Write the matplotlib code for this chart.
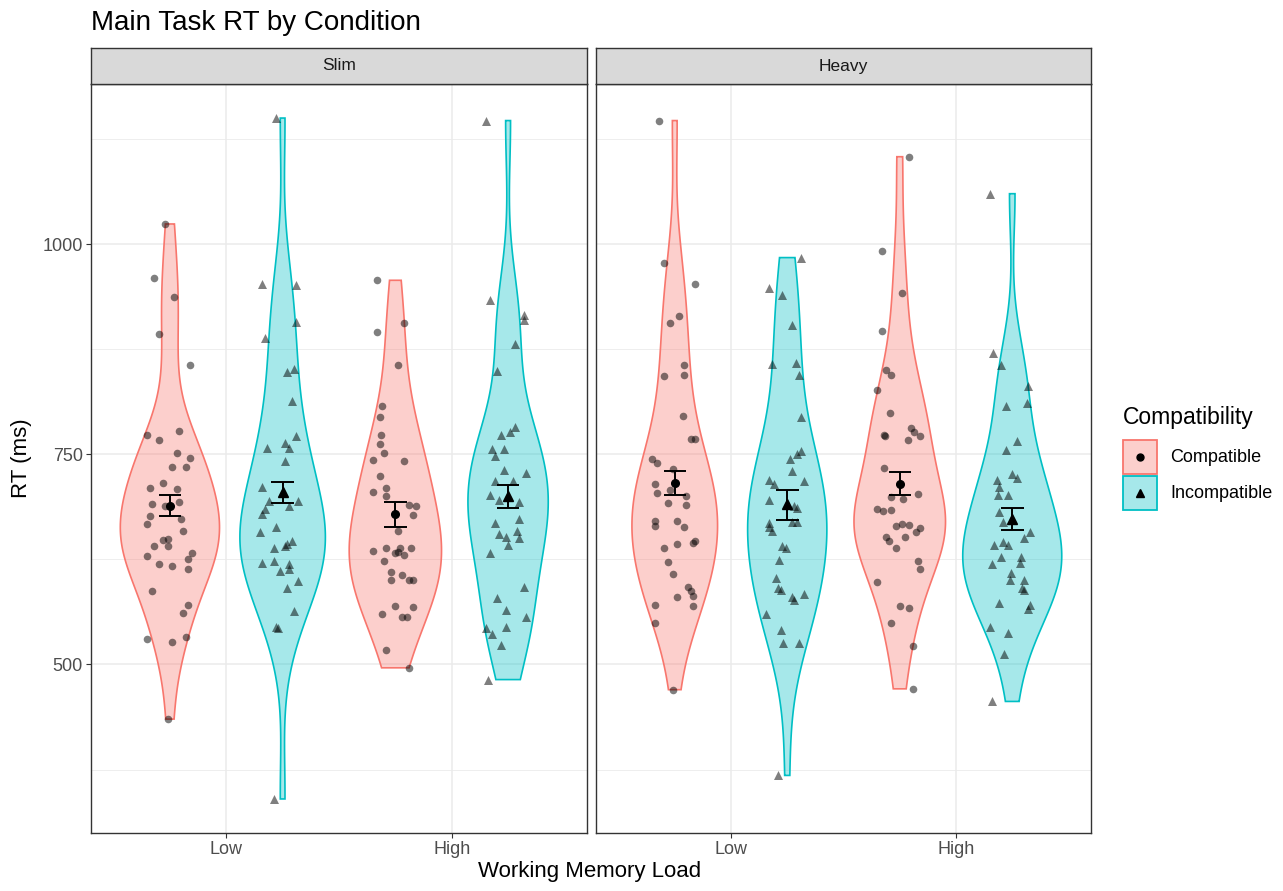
import numpy as np
import matplotlib
matplotlib.use("Agg")
import matplotlib.pyplot as plt
from matplotlib.patches import Polygon, Rectangle
from matplotlib.colors import to_rgba

plt.rcParams['font.family'] = ['Liberation Sans', 'DejaVu Sans']

# ---------------- data ----------------
bodies = ['Slim', 'Heavy']
loads = ['Low', 'High']
compat = ['Compatible', 'Incompatible']

slim_low_comp_rt = [1024, 960, 937, 893, 856, 773, 778, 767, 752, 746, 735, 735, 710, 716, 709,
                    691, 688, 693, 677, 667, 673, 659, 648, 649, 641, 641, 633, 629, 625, 619,
                    617, 613, 587, 571, 561, 530, 527, 533, 435]
slim_low_comp_jit = [-0.02, -0.07, 0.02, -0.05, 0.09, -0.10, 0.04, -0.05, 0.03, 0.09, 0.01, 0.07, -0.09,
                     -0.03, 0.03, -0.08, -0.02, 0.04, -0.09, -0.10, 0.05, 0.06, -0.03, -0.01, -0.01,
                     -0.07, 0.10, -0.10, 0.08, -0.05, 0.01, 0.08, -0.08, 0.08, 0.06, -0.10, 0.01, 0.07, -0.01]

slim_low_incomp_rt = [1150, 953, 951, 907, 888, 848, 852, 813, 772, 757, 764, 758, 742, 711, 695,
                      694, 688, 685, 679, 657, 663, 639, 641, 647, 643, 621, 623, 611, 619, 613,
                      599, 591, 564, 544, 543, 340]
slim_low_incomp_jit = [-0.03, -0.09, 0.06, 0.06, -0.08, 0.02, 0.05, 0.04, 0.06, -0.07, 0.01, 0.03, 0.01,
                       -0.09, -0.06, 0.07, 0.03, -0.08, -0.09, -0.10, -0.03, -0.04, 0.01, 0.04, 0.02,
                       -0.09, -0.04, -0.01, 0.03, 0.03, 0.07, 0.02, 0.05, -0.03, -0.02, -0.04]

slim_high_comp_rt = [957, 896, 906, 856, 807, 794, 773, 762, 751, 743, 742, 724, 705, 710, 700,
                     690, 689, 678, 659, 635, 639, 633, 638, 639, 623, 634, 630, 610, 601, 606,
                     600, 601, 560, 570, 568, 556, 556, 517, 496]
slim_high_comp_jit = [-0.08, -0.08, 0.04, 0.01, -0.06, -0.07, -0.065, -0.07, -0.05, -0.10, 0.04, -0.07,
                      -0.10, -0.04, -0.04, 0.06, 0.09, 0.08, 0.01, -0.10, -0.04, 0.00, 0.02, 0.07,
                      -0.05, 0.01, 0.04, -0.02, -0.02, 0.03, 0.06, 0.08, -0.06, 0.00, 0.08, 0.03,
                      0.05, -0.04, 0.06]

slim_high_incomp_rt = [1147, 933, 916, 910, 881, 849, 782, 776, 773, 756, 756, 748, 731, 728, 718,
                       718, 702, 696, 693, 673, 668, 655, 652, 659, 651, 642, 632, 592, 579, 565,
                       557, 543, 536, 544, 523, 482]
slim_high_incomp_jit = [-0.10, -0.08, 0.07, 0.07, 0.03, -0.05, 0.03, 0.01, -0.03, -0.07, -0.02, -0.06,
                        -0.02, 0.08, -0.06, 0.02, -0.08, -0.04, 0.05, 0.05, -0.06, -0.04, -0.01, 0.04,
                        0.05, 0.00, -0.08, 0.07, -0.05, -0.01, 0.08, -0.10, -0.07, -0.01, -0.03, -0.09]

heavy_low_comp_rt = [1147, 977, 952, 915, 906, 856, 843, 844, 795, 768, 768, 744, 740, 733, 715,
                     704, 708, 692, 700, 690, 671, 665, 671, 663, 647, 645, 639, 643, 622, 608,
                     592, 587, 582, 580, 571, 570, 549, 470]
heavy_low_comp_jit = [-0.07, -0.05, 0.09, 0.02, -0.02, 0.04, -0.05, 0.04, 0.035, 0.07, 0.09, -0.10,
                      -0.08, -0.01, -0.09, -0.08, -0.02, -0.03, 0.05, 0.05, -0.09, -0.09, 0.01, 0.04,
                      0.09, 0.08, -0.05, 0.01, -0.03, -0.01, 0.06, 0.07, 0.08, 0.01, -0.09, 0.08,
                      -0.09, -0.01]

heavy_low_incomp_rt = [984, 948, 939, 904, 857, 859, 844, 794, 754, 750, 745, 730, 718, 719, 715,
                       696, 689, 686, 669, 669, 668, 659, 663, 641, 638, 624, 603, 591, 589, 580,
                       577, 584, 560, 541, 525, 525, 368]
heavy_low_incomp_jit = [0.06, -0.08, -0.025, 0.02, -0.07, 0.04, 0.05, 0.06, 0.06, 0.045, 0.01, 0.02,
                        0.075, -0.08, -0.06, -0.08, 0.03, 0.045, 0.02, 0.045, -0.08, -0.07, -0.08,
                        -0.025, -0.005, -0.035, -0.05, -0.04, -0.03, 0.02, 0.03, 0.075, -0.095,
                        -0.03, -0.02, 0.05, -0.04]

heavy_high_comp_rt = [1104, 992, 942, 897, 850, 844, 827, 799, 773, 772, 781, 776, 772, 767, 734,
                      699, 697, 703, 685, 683, 684, 665, 667, 666, 662, 657, 652, 647, 652, 638,
                      623, 614, 598, 570, 567, 549, 522, 471]
heavy_high_comp_jit = [0.04, -0.08, 0.01, -0.08, -0.06, -0.04, -0.10, -0.045, -0.07, -0.065, 0.05,
                       0.065, 0.09, 0.035, -0.07, -0.04, 0.015, 0.08, -0.10, -0.075, -0.04, -0.015,
                       0.01, 0.04, 0.09, 0.07, -0.06, -0.05, 0.025, -0.015, 0.08, 0.09, -0.10, 0.0,
                       0.04, -0.04, 0.06, 0.06]

heavy_high_incomp_rt = [1060, 871, 856, 831, 811, 807, 766, 755, 727, 722, 719, 711, 701, 701, 681,
                        669, 658, 650, 642, 646, 642, 620, 628, 628, 621, 609, 601, 600, 591, 588,
                        573, 571, 566, 545, 538, 512, 456]
heavy_high_incomp_jit = [-0.10, -0.085, -0.05, 0.07, 0.065, -0.03, 0.02, -0.03, 0.0, 0.02, -0.07,
                         -0.06, -0.065, -0.02, -0.06, -0.04, 0.08, 0.05, -0.08, -0.04, -0.017, -0.09,
                         -0.05, 0.037, 0.033, -0.005, -0.01, 0.05, 0.043, 0.05, -0.06, 0.08, 0.07,
                         -0.10, -0.02, -0.035, -0.09]

# summary (mean and error-bar limits), order: body x load x compat
mean_rt = [689, 705, 679, 700, 716, 691, 715, 673]
err_low = [677, 692, 663, 686, 702, 672, 701, 660]
err_high = [702, 717, 693, 714, 730, 707, 729, 686]

# ---------------- assemble ----------------
rt = {
    ('Slim', 'Low', 'Compatible'): (slim_low_comp_rt, slim_low_comp_jit),
    ('Slim', 'Low', 'Incompatible'): (slim_low_incomp_rt, slim_low_incomp_jit),
    ('Slim', 'High', 'Compatible'): (slim_high_comp_rt, slim_high_comp_jit),
    ('Slim', 'High', 'Incompatible'): (slim_high_incomp_rt, slim_high_incomp_jit),
    ('Heavy', 'Low', 'Compatible'): (heavy_low_comp_rt, heavy_low_comp_jit),
    ('Heavy', 'Low', 'Incompatible'): (heavy_low_incomp_rt, heavy_low_incomp_jit),
    ('Heavy', 'High', 'Compatible'): (heavy_high_comp_rt, heavy_high_comp_jit),
    ('Heavy', 'High', 'Incompatible'): (heavy_high_incomp_rt, heavy_high_incomp_jit),
}

colors = {'Compatible': '#F8766D', 'Incompatible': '#00BFC4'}
markers = {'Compatible': 'o', 'Incompatible': '^'}
DODGE = 0.25
VWIDTH = 0.44
BW_ADJUST = 1.3


def nrd0(x):
    x = np.asarray(x, float)
    sd = x.std(ddof=1)
    q75, q25 = np.percentile(x, [75, 25])
    lo = min(sd, (q75 - q25) / 1.34)
    return 0.9 * lo * len(x) ** -0.2


def density(x, grid):
    x = np.asarray(x, float)
    bw = nrd0(x) * BW_ADJUST
    z = (grid[:, None] - x[None, :]) / bw
    return np.exp(-0.5 * z ** 2).sum(axis=1) / (len(x) * bw * np.sqrt(2 * np.pi))


all_vals = np.concatenate([np.asarray(v[0], float) for v in rt.values()])
ymin, ymax = all_vals.min(), all_vals.max()
pad = 0.05 * (ymax - ymin)

W, H = 1283, 891
fig = plt.figure(figsize=(W / 100, H / 100), dpi=100)


def px_axes(x0, y0, x1, y1, **kw):
    return fig.add_axes([x0 / W, 1 - y1 / H, (x1 - x0) / W, (y1 - y0) / H], **kw)


panel_px = {'Slim': (91, 84, 587, 833), 'Heavy': (596, 84, 1091, 833)}
strip_px = {'Slim': (91, 48, 587, 84), 'Heavy': (596, 48, 1091, 84)}

idx = 0
for b in bodies:
    ax = px_axes(*panel_px[b])
    ax.set_xlim(0.4, 2.6)
    ax.set_ylim(ymin - pad, ymax + pad)
    ax.set_facecolor('white')
    ax.set_xticks([1, 2])
    ax.set_xticklabels(loads)
    ax.set_yticks([500, 750, 1000])
    ax.set_yticks([375, 625, 875, 1125], minor=True)
    ax.grid(which='major', color='#EBEBEB', lw=1.1, zorder=0)
    ax.grid(which='minor', axis='y', color='#EBEBEB', lw=0.6, zorder=0)
    ax.set_axisbelow(True)
    for s in ax.spines.values():
        s.set_color('#333333')
        s.set_linewidth(1.0)
    ax.tick_params(which='major', length=3.5, width=0.8, color='#333333',
                   labelcolor='#4D4D4D', labelsize=13, pad=2.5)
    ax.tick_params(which='minor', length=0)
    if b != 'Slim':
        ax.tick_params(axis='y', left=False, labelleft=False)

    # densities for this panel (scale = "area": common maximum per panel)
    dens = {}
    for li, l in enumerate(loads):
        for c in compat:
            vals = np.asarray(rt[(b, l, c)][0], float)
            grid = np.linspace(vals.min(), vals.max(), 512)
            dens[(l, c)] = (grid, density(vals, grid))
    dmax = max(d[1].max() for d in dens.values())

    for li, l in enumerate(loads):
        for ci, c in enumerate(compat):
            center = li + 1 + (-DODGE if ci == 0 else DODGE)
            grid, d = dens[(l, c)]
            hw = d / dmax * VWIDTH / 2
            xs = np.concatenate([center - hw, (center + hw)[::-1]])
            ys = np.concatenate([grid, grid[::-1]])
            poly = Polygon(np.column_stack([xs, ys]), closed=True,
                           facecolor=to_rgba(colors[c], 0.35), edgecolor=colors[c],
                           lw=1.2, zorder=2)
            ax.add_patch(poly)

            vals, jit = rt[(b, l, c)]
            ax.scatter(center + np.asarray(jit), vals, marker=markers[c],
                       s=30 if c == 'Compatible' else 42, color='black', alpha=0.5,
                       linewidths=0, zorder=3)

            m, lo, hi = mean_rt[idx], err_low[idx], err_high[idx]
            ax.vlines(center, lo, hi, color='black', lw=1.4, zorder=4)
            ax.hlines([lo, hi], center - 0.05, center + 0.05, color='black', lw=1.4, zorder=4)
            ax.plot(center, m, marker=markers[c], ms=5.5 if c == 'Compatible' else 6.5,
                    color='black', ls='none', zorder=5)
            idx += 1

    sax = px_axes(*strip_px[b])
    sax.set_xticks([])
    sax.set_yticks([])
    sax.set_facecolor('#D9D9D9')
    for s in sax.spines.values():
        s.set_color('#333333')
        s.set_linewidth(1.0)
    sax.text(0.5, 0.5, b, ha='center', va='center', fontsize=12.5, color='#1A1A1A',
             transform=sax.transAxes)

# titles
fig.text(91 / W, 1 - 23 / H, 'Main Task RT by Condition', fontsize=20, ha='left', va='center',
         color='black')
fig.text(22 / W, 1 - 458 / H, 'RT (ms)', fontsize=16, rotation=90, ha='center', va='center')
fig.text(590 / W, 1 - 872 / H, 'Working Memory Load', fontsize=16, ha='center', va='center')

# legend (drawn in a pixel-coordinate overlay)
lax = fig.add_axes([0, 0, 1, 1], zorder=10)
lax.set_xlim(0, W)
lax.set_ylim(H, 0)
lax.axis('off')
lax.text(1123, 424, 'Compatibility', fontsize=16.5, ha='left', va='baseline')
for k, c in enumerate(compat):
    y0 = 440 + k * 36
    lax.add_patch(Rectangle((1123, y0), 34, 34, facecolor=to_rgba(colors[c], 0.35),
                            edgecolor=colors[c], lw=1.3))
    lax.plot(1140, y0 + 17, marker=markers[c], ms=5 if c == 'Compatible' else 6,
             color='black', ls='none')
    lax.text(1170, y0 + 17, c, fontsize=13, ha='left', va='center')

fig.savefig('out.png', dpi=100, facecolor='white')
